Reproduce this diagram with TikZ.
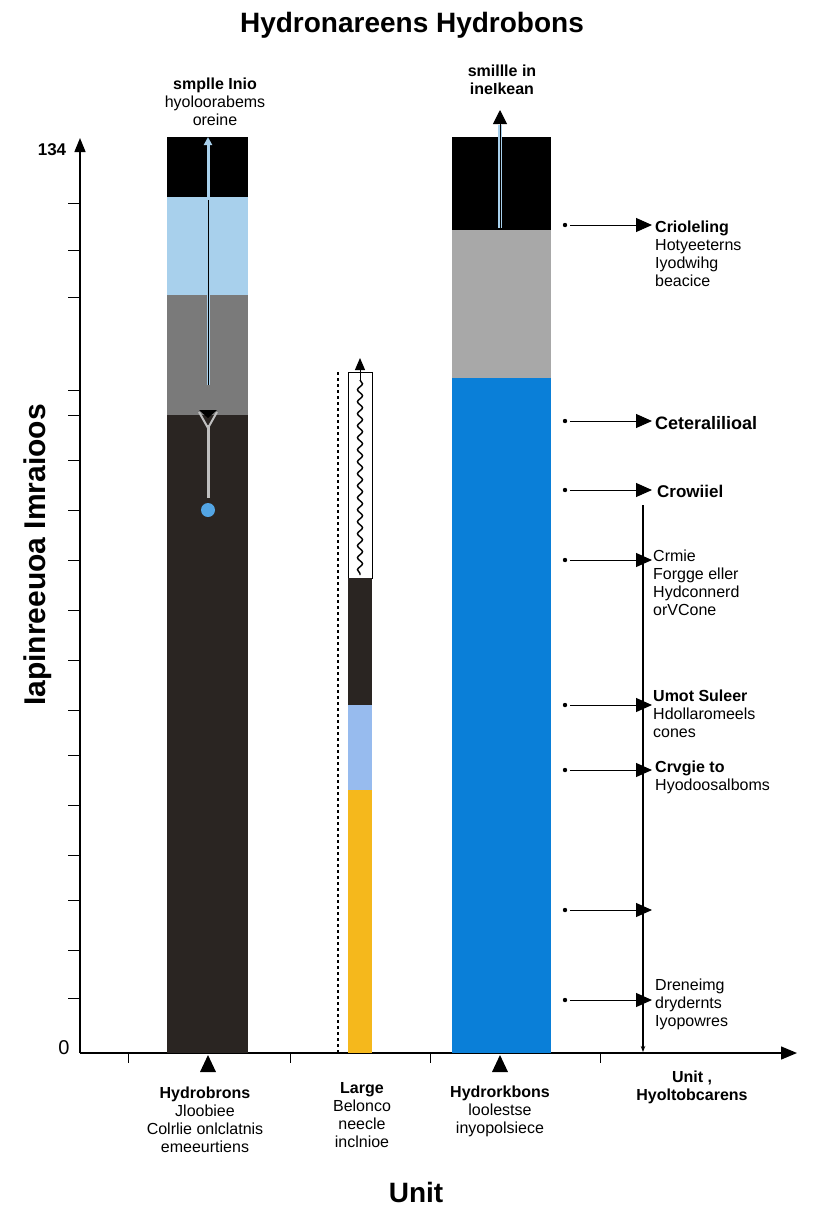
\documentclass[tikz,border=0pt]{standalone}
\usepackage{fontspec}
\setmainfont{Liberation Sans}
\usetikzlibrary{arrows.meta,decorations.pathmorphing}
\definecolor{dk}{HTML}{2A2522}
\definecolor{lb}{HTML}{A8D0EC}
\definecolor{gr}{HTML}{7A7A7A}
\definecolor{lg}{HTML}{A8A8A8}
\definecolor{bl}{HTML}{0A7FD8}
\definecolor{yl}{HTML}{F5B81C}
\tikzset{lbl/.style={align=center,font=\fontsize{16}{18}\selectfont,inner sep=0pt},
 rlbl/.style={align=left,anchor=west,font=\fontsize{16}{18}\selectfont,inner sep=0pt},
 ann/.style={-{Triangle[length=16pt,width=14pt]},line width=1pt},
 seg/.style={draw=none}}
\begin{document}
\begin{tikzpicture}[x=1pt,y=-1pt]
\useasboundingbox[fill=white] (0,0) rectangle (832,1216);
\node[font=\bfseries\fontsize{28}{30}\selectfont] (title) at (412,25) {Hydronareens Hydrobons};
% axes
\coordinate (o) at (80,1053);
\coordinate (yt) at (80,138);
\coordinate (xt) at (797,1053);
\draw[line width=1.4pt,-{Triangle[length=14pt,width=11pt]}] (o) -- (yt);
\draw[line width=1.4pt,-{Triangle[length=16pt,width=13pt]}] (o) -- (xt);
\foreach \y in {203,250,297,390,415,460,510,560,610,660,710,755,805,855,900,950,998}
  \draw[line width=1pt] (68,\y) -- (80,\y);
\foreach \x in {128,290,430,600} \draw[line width=1pt] (\x,1053) -- (\x,1063);
\node[font=\bfseries\fontsize{17}{19}\selectfont] (ymax) at (52,150) {134};
\node[font=\fontsize{20}{22}\selectfont] (yzero) at (64,1048) {0};
\node[rotate=90,font=\bfseries\fontsize{30}{32}\selectfont] (ylab) at (38,555) {Iapinreeuoa Imraioos};
% bar 1
\fill[black] (167,137) rectangle (248,197);
\fill[lb] (167,197) rectangle (248,295);
\fill[gr] (167,295) rectangle (248,415);
\fill[dk] (167,415) rectangle (248,1053);
\draw[lb,line width=3pt,-{Triangle[length=8pt,width=8pt]}] (208,385) -- (208,137);
\draw[black,line width=1pt] (208,385) -- (208,200);
\draw[lightgray,line width=3pt] (208,425) -- (208,498);
\draw[lightgray,line width=2pt] (199,412) -- (208,428) -- (217,412);
\fill[black] (199,410) -- (217,410) -- (208,418) -- cycle;
\fill[bl!70] (208,510) circle (7);
\node[lbl] (l1) at (215,102) {\textbf{smplle Inio}\\hyoloorabems\\oreine};
% bar 2
\draw[dashed,line width=2.2pt] (338,372) -- (338,1053);
\draw[line width=1pt,fill=white] (348,372) rectangle (372,578);
\draw[decorate,decoration={snake,amplitude=2.5pt,segment length=12pt},line width=1.4pt] (360,380) -- (360,575);
\draw[line width=1pt,-{Triangle[length=12pt,width=10pt]}] (360,380) -- (360,358);
\fill[dk] (348,578) rectangle (372,705);
\fill[lb!90!blue] (348,705) rectangle (372,790);
\fill[yl] (348,790) rectangle (372,1053);
% bar 3
\fill[black] (452,137) rectangle (551,230);
\fill[lg] (452,230) rectangle (551,378);
\fill[bl] (452,378) rectangle (551,1053);
\draw[lb,line width=4pt] (500,228) -- (500,125);
\draw[black,line width=1pt,-{Triangle[length=14pt,width=14pt]}] (500,228) -- (500,110);
\node[lbl] (l3) at (502,80) {\textbf{smillle in}\\\textbf{ineIkean}};
% triangles on x-axis
\fill (208,1055) -- (200,1072) -- (216,1072) -- cycle;
\fill (500,1055) -- (492,1072) -- (508,1072) -- cycle;
% right annotations
\foreach \y/\n in {225/a,421/b,490/c,560/d,705/e,770/f,910/g,1000/h}{
  \fill (565,\y) circle (2.2);
  \coordinate (s\n) at (570,\y);
  \coordinate (e\n) at (652,\y);
  \draw[ann] (s\n) -- (e\n);}
\coordinate (vt) at (643,505);
\coordinate (vb) at (643,1052);
\draw[line width=1.2pt,-{Stealth[length=6pt]}] (vt) -- (vb);
\node[rlbl] (ra) at (655,254) {\textbf{Crioleling}\\Hotyeeterns\\Iyodwihg\\beacice};
\node[rlbl,font=\bfseries\fontsize{18}{20}\selectfont] (rb) at (655,423) {Ceteralilioal};
\node[rlbl,font=\bfseries\fontsize{17}{19}\selectfont] (rc) at (657,491) {Crowiiel};
\node[rlbl] (rd) at (653,583) {Crmie\\Forgge eller\\Hydconnerd\\orVCone};
\node[rlbl] (re) at (653,714) {\textbf{Umot Suleer}\\Hdollaromeels\\cones};
\node[rlbl] (rf) at (655,777) {\textbf{Crvgie to}\\Hyodoosalboms};
\node[rlbl] (rh) at (655,1004) {Dreneimg\\drydernts\\Iyopowres};
% bottom labels
\node[lbl] (b1) at (205,1120) {\textbf{Hydrobrons}\\Jloobiee\\Colrlie onlclatnis\\emeeurtiens};
\node[lbl] (b2) at (362,1115) {\textbf{Large}\\Belonco\\neecle\\inclnioe};
\node[lbl] (b3) at (500,1111) {\textbf{Hydrorkbons}\\loolestse\\inyopolsiece};
\node[lbl] (b4) at (692,1087) {\textbf{Unit ,}\\\textbf{Hyoltobcarens}};
\node[font=\bfseries\fontsize{28}{30}\selectfont] (ux) at (416,1192) {Unit};
\end{tikzpicture}
\end{document}
